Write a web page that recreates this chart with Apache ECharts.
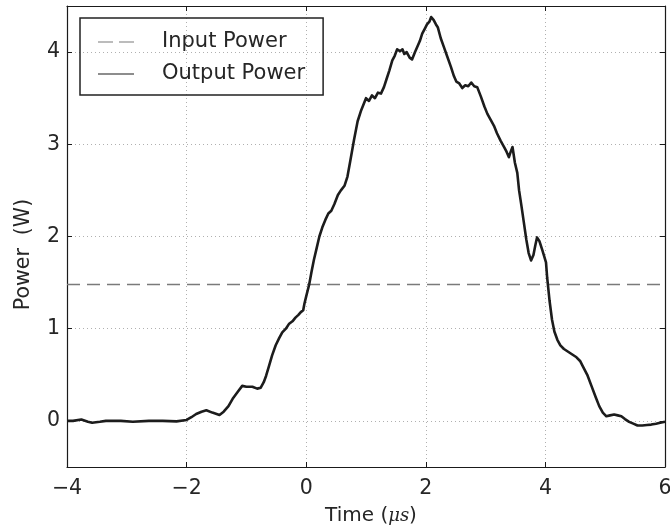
<!DOCTYPE html>
<html>
<head>
<meta charset="utf-8">
<script src="https://cdn.jsdelivr.net/npm/echarts@6/dist/echarts.min.js"></script>
<style>html,body{margin:0;padding:0;background:#fff;}#c{width:670px;height:527px;}</style>
</head>
<body>
<div id="c"></div>
<script>
const timeUs = [-4, -3.9, -3.76, -3.65, -3.58, -3.45, -3.35, -3.1, -2.9, -2.63, -2.4, -2.17, -2.0, -1.92, -1.84, -1.75, -1.67, -1.57, -1.45, -1.38, -1.3, -1.23, -1.15, -1.07, -1.0, -0.9, -0.82, -0.76, -0.71, -0.67, -0.62, -0.57, -0.51, -0.45, -0.4, -0.34, -0.29, -0.23, -0.18, -0.13, -0.09, -0.05, -0.03, 0.0, 0.05, 0.09, 0.13, 0.17, 0.22, 0.27, 0.32, 0.37, 0.42, 0.47, 0.53, 0.58, 0.64, 0.69, 0.74, 0.8, 0.86, 0.92, 0.97, 1.0, 1.05, 1.1, 1.15, 1.2, 1.25, 1.3, 1.34, 1.39, 1.44, 1.48, 1.52, 1.57, 1.61, 1.64, 1.68, 1.73, 1.77, 1.82, 1.86, 1.9, 1.94, 1.98, 2.02, 2.06, 2.09, 2.13, 2.17, 2.2, 2.25, 2.3, 2.36, 2.42, 2.47, 2.51, 2.56, 2.61, 2.66, 2.71, 2.76, 2.81, 2.86, 2.92, 2.98, 3.03, 3.09, 3.14, 3.19, 3.25, 3.31, 3.35, 3.39, 3.42, 3.45, 3.49, 3.53, 3.56, 3.6, 3.64, 3.68, 3.72, 3.76, 3.8, 3.83, 3.86, 3.9, 3.95, 4.01, 4.03, 4.07, 4.11, 4.15, 4.2, 4.25, 4.31, 4.38, 4.45, 4.52, 4.58, 4.62, 4.7, 4.77, 4.84, 4.9, 4.96, 5.02, 5.08, 5.15, 5.21, 5.27, 5.33, 5.4, 5.47, 5.54, 5.62, 5.7, 5.77, 5.85, 5.92, 6.0];
const outputPower = [0, 0.0, 0.015, -0.01, -0.02, -0.01, 0.0, 0.0, -0.01, 0.0, 0.0, -0.005, 0.01, 0.04, 0.075, 0.1, 0.115, 0.09, 0.065, 0.1, 0.16, 0.24, 0.31, 0.38, 0.37, 0.37, 0.35, 0.36, 0.42, 0.49, 0.6, 0.71, 0.82, 0.9, 0.96, 1.0, 1.05, 1.08, 1.12, 1.15, 1.18, 1.2, 1.27, 1.35, 1.48, 1.62, 1.75, 1.86, 2.0, 2.1, 2.18, 2.25, 2.28, 2.35, 2.45, 2.5, 2.55, 2.65, 2.83, 3.05, 3.25, 3.37, 3.45, 3.5, 3.47, 3.53, 3.5, 3.56, 3.55, 3.62, 3.7, 3.8, 3.91, 3.96, 4.03, 4.01, 4.03, 3.98, 4.0, 3.94, 3.92, 4.0, 4.06, 4.12, 4.2, 4.25, 4.3, 4.33, 4.38, 4.35, 4.3, 4.27, 4.15, 4.06, 3.95, 3.84, 3.74, 3.68, 3.66, 3.61, 3.64, 3.63, 3.67, 3.63, 3.62, 3.52, 3.41, 3.33, 3.26, 3.2, 3.12, 3.04, 2.97, 2.92, 2.86, 2.92, 2.97, 2.8, 2.69, 2.5, 2.33, 2.15, 1.97, 1.82, 1.74, 1.8, 1.9, 1.99, 1.95, 1.85, 1.72, 1.55, 1.3, 1.1, 0.97, 0.88, 0.82, 0.78, 0.75, 0.72, 0.69, 0.65, 0.6, 0.5, 0.38, 0.26, 0.16, 0.09, 0.05, 0.06, 0.07, 0.06, 0.05, 0.02, -0.01, -0.03, -0.05, -0.05, -0.045, -0.04, -0.03, -0.02, -0.01];
const inputTime = [-4, 6];
const inputPower = [1.48, 1.48];
const yTicks = [0, 1, 2, 3, 4];
const xTicks = [-4, -2, 0, 2, 4, 6];

const FONT = 'DejaVu Sans';
const TXT = '#262626';
const chart = echarts.init(document.getElementById('c'), null, {renderer: 'canvas'});

const baseX = {
  type: 'value', min: -4, max: 6, interval: 2,
  axisLine: {show: true, onZero: false, lineStyle: {color: '#1a1a1a', width: 1.2}},
  axisTick: {show: true, inside: true, length: 5, lineStyle: {color: '#1a1a1a'}},
  splitLine: {show: false}
};
const baseY = {
  type: 'value', min: -0.5, max: 4.5,
  axisLine: {show: true, onZero: false, lineStyle: {color: '#1a1a1a', width: 1.2}},
  axisTick: {show: true, inside: true, length: 5, customValues: yTicks, lineStyle: {color: '#1a1a1a'}},
  splitLine: {show: false}
};

chart.setOption({
  animation: false,
  backgroundColor: '#fff',
  grid: {left: 67, right: 5, top: 6, bottom: 60, containLabel: false, outerBoundsMode: 'none'},
  legend: {
    left: 80, top: 18, orient: 'vertical',
    padding: [13, 18, 10, 18],
    borderColor: '#222', borderWidth: 1.5, borderRadius: 0,
    itemWidth: 36, itemHeight: 1.6, itemGap: 10,
    textStyle: {fontFamily: FONT, fontSize: 21, color: TXT, lineHeight: 22, padding: [0, 0, 0, 23]},
    data: [
      {name: 'Input Power', icon: 'path://M0,0H15V1H0Z M21,0H36V1H21Z'},
      {name: 'Output Power', icon: 'path://M0,0H36V1H0Z'}
    ]
  },
  xAxis: [
    Object.assign({}, baseX, {
      position: 'bottom',
      axisLabel: {show: true, fontFamily: FONT, fontSize: 20.5, color: TXT, margin: 11,
        formatter: v => (v < 0 ? '\u2212' + Math.abs(v) : String(v))},
      splitLine: {show: true, lineStyle: {color: '#b0b0b0', type: [1, 3], width: 1}},
      name: '{a|Time (}{b|μs}{a|)}',
      nameLocation: 'middle', nameGap: 39,
      nameTextStyle: {padding: [0, 0, 0, 10], rich: {
        a: {fontFamily: FONT, fontSize: 20, color: TXT},
        b: {fontFamily: 'DejaVu Serif', fontStyle: 'italic', fontSize: 18, color: TXT}
      }}
    }),
    Object.assign({}, baseX, {position: 'top', axisLabel: {show: false}})
  ],
  yAxis: [
    Object.assign({}, baseY, {
      position: 'left',
      axisLabel: {show: true, fontFamily: FONT, fontSize: 20.5, color: TXT, margin: 7, customValues: yTicks},
      splitLine: {show: true, lineStyle: {color: '#b0b0b0', type: [1, 3], width: 1}},
      name: 'Power  (W)', nameLocation: 'middle', nameGap: 33, nameRotate: 90,
      nameTextStyle: {fontFamily: FONT, fontSize: 20.5, color: TXT, padding: [0, 36, 0, 0]}
    }),
    Object.assign({}, baseY, {position: 'right', axisLabel: {show: false}})
  ],
  series: [
    {
      name: 'Input Power', type: 'line', xAxisIndex: 0, yAxisIndex: 0,
      symbol: 'none', silent: true,
      data: inputTime.map((t, i) => [t, inputPower[i]]),
      lineStyle: {color: '#7a7a7a', width: 1.6, type: [13, 7]},
      itemStyle: {color: '#7a7a7a'}
    },
    {
      name: 'Output Power', type: 'line', xAxisIndex: 0, yAxisIndex: 0,
      symbol: 'none', silent: true,
      data: timeUs.map((t, i) => [t, outputPower[i]]),
      lineStyle: {color: '#1c1c1c', width: 2.6, join: 'round'},
      itemStyle: {color: '#1c1c1c'}
    }
  ]
});
</script>
</body>
</html>
